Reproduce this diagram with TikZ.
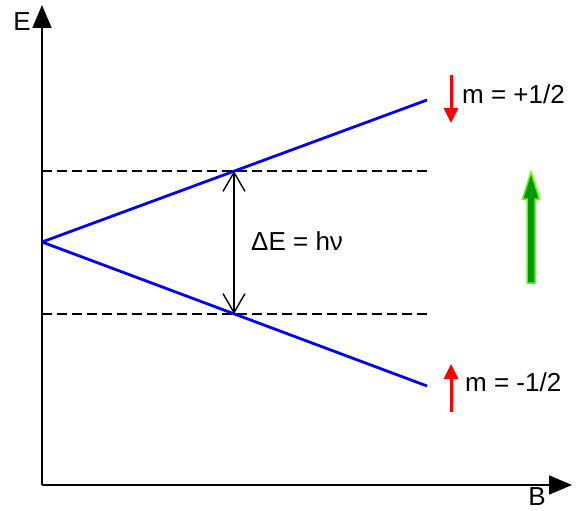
\documentclass[tikz,border=0pt]{standalone}
\usepackage{fontspec}
\setmainfont{Liberation Sans}
\usetikzlibrary{arrows.meta}

\begin{document}
\begin{tikzpicture}[x=1pt,y=-1pt,
  axis/.style={line width=1.6pt, -{Triangle[length=23pt,width=19pt]}},
  level/.style={blue, line width=2.8pt},
  guide/.style={line width=1.8pt, dash pattern=on 10pt off 5pt},
  spin/.style={red, line width=3pt, -{Triangle[length=15pt,width=14pt]}},
  lbl/.style={font=\fontsize{26}{30}\selectfont, inner sep=0pt}]
  \useasboundingbox (0,0) rectangle (582,511);
  % axes
  \coordinate (O) at (42,485);
  \coordinate (Etop) at (42,5);
  \coordinate (Bend) at (572,485);
  \draw[axis] (O) -- (Etop);
  \draw[axis] (O) -- (Bend);
  \node[lbl] (E) at (22,22) {E};
  \node[lbl] (B) at (537,497) {B};
  % Zeeman splitting
  \coordinate (S) at (42,242);
  \coordinate (U) at (427,100);
  \coordinate (L) at (427,386);
  \coordinate (up) at (234,171);
  \coordinate (lo) at (234,314);
  \draw[guide] (42,171) coordinate (gu) -- (428,171) coordinate (gu2);
  \draw[guide] (42,314) coordinate (gl) -- (428,314) coordinate (gl2);
  \draw[level] (S) -- (U);
  \draw[level] (S) -- (L);
  \draw[line width=1.4pt, {Straight Barb[length=19pt,width=22pt]}-{Straight Barb[length=19pt,width=22pt]}] (up) -- (lo);
  \node[lbl, anchor=west] (dE) at (251,241) {ΔE = hν};
  % spin states
  \coordinate (s1a) at (451,75);
  \coordinate (s1b) at (451,123);
  \coordinate (s2a) at (451,412);
  \coordinate (s2b) at (451,364);
  \draw[spin] (s1a) -- (s1b);
  \draw[spin] (s2a) -- (s2b);
  \node[lbl, anchor=west] (mp) at (462,94) {m = +1/2};
  \node[lbl, anchor=west] (mm) at (465,382) {m = -1/2};
  % field direction
  \draw[draw={green!60!yellow}, line width=1.5pt, fill={green!60!black}]
    (527,283) -- (527,199) -- (522.5,199) -- (531,172) -- (539.5,199) -- (535,199) -- (535,283) -- cycle;
\end{tikzpicture}
\end{document}
